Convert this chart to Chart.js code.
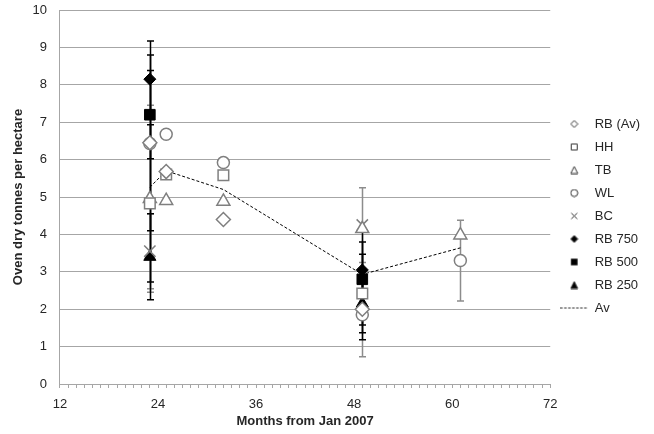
<!DOCTYPE html>
<html>
<head>
<meta charset="utf-8">
<script src="https://cdn.jsdelivr.net/npm/chart.js@4"></script>
<style>
  html, body { margin: 0; padding: 0; background: #fff; }
  #wrap { width: 654px; height: 434px; }
</style>
</head>
<body>
<div id="wrap"><canvas id="chart"></canvas></div>
<script>
// values (months from Jan 2007, oven dry t/ha, +/- error)
const rbAvX = [23, 25, 32, 49];
const rbAvY = [6.45, 5.68, 4.40, 2.00];
const rbAvErr = [2.35, 0, 0, 0.82];

const hhX = [23, 25, 32, 49];
const hhY = [4.83, 5.60, 5.58, 2.42];
const hhErr = [2.10, 0, 0, 1.05];

const tbX = [23, 25, 32, 49, 61];
const tbY = [4.95, 4.90, 4.88, 4.15, 3.98];
const tbErr = [2.50, 0, 0, 0, 0];

const wlX = [23, 25, 32, 49, 61];
const wlY = [6.43, 6.68, 5.92, 1.85, 3.30];
const wlErr = [1.70, 0, 0, 1.12, 1.08];

const bcX = [23, 49];
const bcY = [3.55, 4.25];
const bcErr = [1.00, 1.00];

const rb750X = [23, 49];
const rb750Y = [8.15, 3.05];
const rb750Err = [1.02, 1.05];

const rb500X = [23, 49];
const rb500Y = [7.20, 2.80];
const rb500Err = [1.18, 1.00];

const rb250X = [23, 49];
const rb250Y = [3.40, 2.15];
const rb250Err = [1.15, 0.57];

const avX = [23, 25, 32, 49, 61];
const avY = [5.26, 5.70, 5.20, 2.93, 3.64];

const X_MIN = 12, X_MAX = 72, X_MAJOR = 12;
const Y_MIN = 0, Y_MAX = 10;

const GREY = '#7f7f7f';
const TEXT = '#262626';

Chart.defaults.font.family = "'Liberation Sans', Arial, sans-serif";
Chart.defaults.font.size = 13;
Chart.defaults.color = TEXT;

const pts = (xs, ys) => xs.map((x, i) => ({ x, y: ys[i] }));

function markerSet(label, xs, ys, errs, style, filled, radius, errColor) {
  return {
    label,
    data: pts(xs, ys),
    errors: errs,
    errorColor: errColor,
    pointStyle: style,
    pointRadius: radius,
    pointHoverRadius: radius,
    backgroundColor: filled ? '#000' : '#fff',
    borderColor: filled ? '#000' : GREY,
    borderWidth: filled ? 1 : 1.5,
    showLine: false,
  };
}

// small fixed-size legend symbols (so the dashed "Av" key can be wide)
function legendIcon(style, filled) {
  const c = document.createElement('canvas');
  const isLine = style === 'line';
  c.width = isLine ? 28 : 9;
  c.height = isLine ? 2 : 9;
  const g = c.getContext('2d');
  g.lineWidth = 1;
  g.strokeStyle = '#333';
  g.fillStyle = filled ? '#000' : '#fff';
  g.beginPath();
  if (isLine) {
    g.setLineDash([2.5, 1.5]);
    g.moveTo(0, 1); g.lineTo(28, 1);
  } else if (style === 'rectRot') {
    g.moveTo(4.5, 1); g.lineTo(8, 4.5); g.lineTo(4.5, 8); g.lineTo(1, 4.5); g.closePath();
  } else if (style === 'rect') {
    g.rect(1.5, 1.5, 6, 6);
  } else if (style === 'triangle') {
    g.moveTo(4.5, 1); g.lineTo(8, 8); g.lineTo(1, 8); g.closePath();
  } else if (style === 'circle') {
    g.arc(4.5, 4.5, 3.5, 0, Math.PI * 2);
  } else {
    g.moveTo(1.5, 1.5); g.lineTo(7.5, 7.5); g.moveTo(7.5, 1.5); g.lineTo(1.5, 7.5);
  }
  if (!isLine && style !== 'crossRot') g.fill();
  g.stroke();
  return c;
}

const errorBars = {
  id: 'errorBars',
  beforeDatasetsDraw(chart) {
    const { ctx, scales: { x, y } } = chart;
    const sets = chart.data.datasets.filter(d => d.errors);
    // grey bars first, black ones over them
    const ordered = sets.filter(d => d.errorColor !== '#000').concat(sets.filter(d => d.errorColor === '#000'));
    ctx.save();
    ctx.lineWidth = 1.5;
    ordered.forEach(ds => {
      ctx.strokeStyle = ds.errorColor;
      ds.data.forEach((p, i) => {
        const e = ds.errors[i];
        if (!e) return;
        const px = Math.round(x.getPixelForValue(p.x)) + 0.5;
        const top = y.getPixelForValue(p.y + e);
        const bot = y.getPixelForValue(p.y - e);
        ctx.beginPath();
        ctx.moveTo(px, top); ctx.lineTo(px, bot);
        ctx.moveTo(px - 3.5, top); ctx.lineTo(px + 3.5, top);
        ctx.moveTo(px - 3.5, bot); ctx.lineTo(px + 3.5, bot);
        ctx.stroke();
      });
    });
    ctx.restore();
  }
};

const datasets = [
  markerSet('RB (Av)', rbAvX, rbAvY, rbAvErr, 'rectRot', false, 7, '#000'),
  markerSet('HH', hhX, hhY, hhErr, 'rect', false, 7.5, '#000'),
  markerSet('TB', tbX, tbY, tbErr, 'triangle', false, 7.5, '#8c8c8c'),
  markerSet('WL', wlX, wlY, wlErr, 'circle', false, 6, '#8c8c8c'),
  markerSet('BC', bcX, bcY, bcErr, 'crossRot', false, 8, '#8c8c8c'),
  markerSet('RB 750', rb750X, rb750Y, rb750Err, 'rectRot', true, 6, '#000'),
  markerSet('RB 500', rb500X, rb500Y, rb500Err, 'rect', true, 7.5, '#000'),
  markerSet('RB 250', rb250X, rb250Y, rb250Err, 'triangle', true, 7, '#000'),
  {
    label: 'Av',
    data: pts(avX, avY),
    showLine: true,
    borderColor: '#000',
    borderWidth: 1,
    borderDash: [3, 2],
    pointRadius: 0,
    pointStyle: 'line',
    order: 2,
  },
];

new Chart(document.getElementById('chart'), {
  type: 'scatter',
  data: { datasets },
  plugins: [errorBars],
  options: {
    responsive: true,
    maintainAspectRatio: false,
    animation: false,
    layout: { padding: { top: 0, right: 4, bottom: 2, left: 0 } },
    plugins: {
      tooltip: { enabled: false },
      legend: {
        position: 'right',
        labels: {
          usePointStyle: true,
          pointStyleWidth: 28,
          boxHeight: 9,
          padding: 10,
          color: TEXT,
          font: { size: 13 },
          generateLabels(chart) {
            const items = Chart.defaults.plugins.legend.labels.generateLabels(chart);
            items.forEach((it, i) => {
              const ds = chart.data.datasets[it.datasetIndex ?? i];
              it.pointStyle = legendIcon(ds.pointStyle, ds.backgroundColor === '#000');
            });
            return items;
          },
        },
      },
    },
    scales: {
      x: {
        type: 'linear',
        min: X_MIN,
        max: X_MAX,
        ticks: {
          stepSize: 1,
          autoSkip: false,
          maxRotation: 0,
          padding: 9,
          color: TEXT,
          callback: v => (v % X_MAJOR === 0 ? v : ''),
        },
        grid: { drawOnChartArea: false, drawTicks: true, tickLength: 4, color: '#a6a6a6' },
        border: { color: '#a6a6a6' },
        title: {
          display: true,
          text: 'Months from Jan 2007',
          color: TEXT,
          font: { size: 13, weight: 'bold' },
          padding: { top: -8.4, bottom: 3.2 },
        },
      },
      y: {
        min: Y_MIN,
        max: Y_MAX,
        ticks: { stepSize: 1, padding: 13, color: TEXT },
        grid: { drawTicks: false, color: '#a6a6a6' },
        border: { color: '#a6a6a6' },
        title: {
          display: true,
          text: 'Oven dry tonnes per hectare',
          color: TEXT,
          font: { size: 13, weight: 'bold' },
          padding: { top: 10.2, bottom: -6.3 },
        },
        // keep only room for half of the top "10" label above the plot
        afterFit(scale) {
          scale.paddingTop = 10;
          scale.paddingBottom = 8;
        },
      },
    },
  },
});
</script>
</body>
</html>
